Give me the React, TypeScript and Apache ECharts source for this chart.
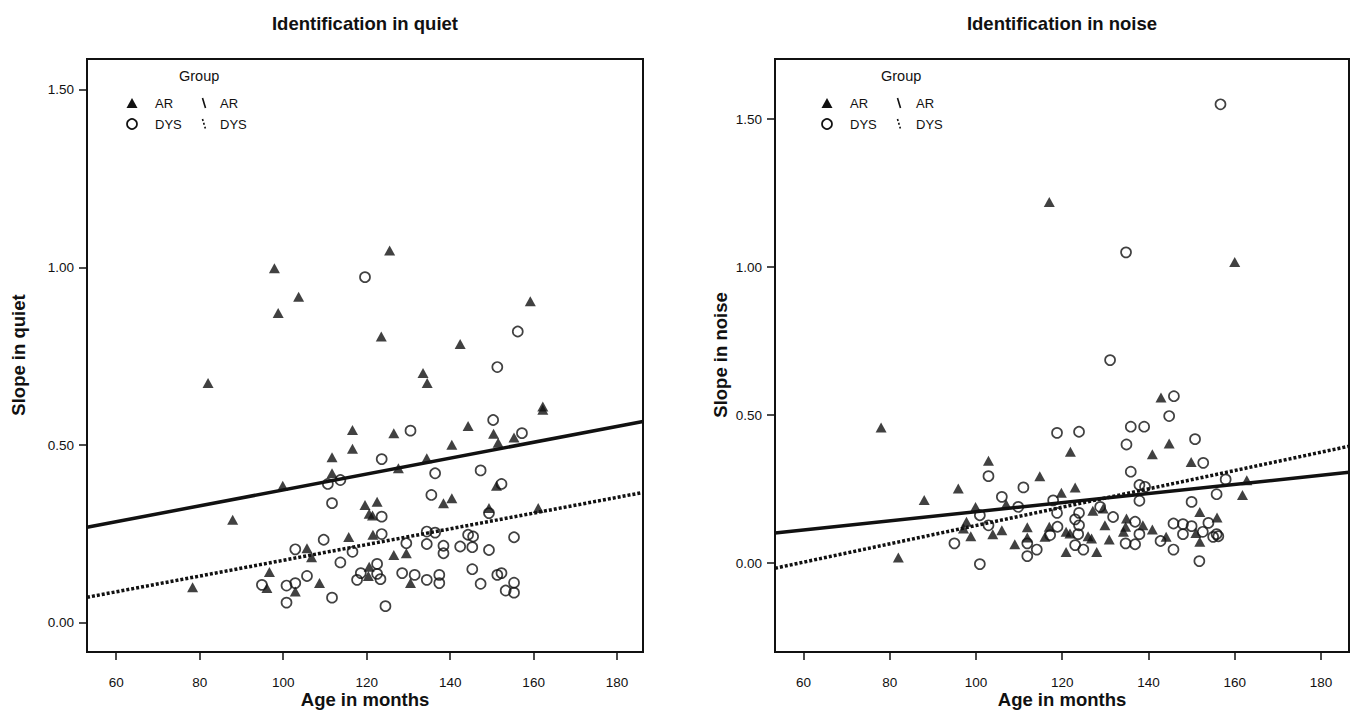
import React, { useEffect, useRef } from "react";
import * as echarts from "echarts";

// ---- axis ticks ----
const tickAges = [60, 80, 100, 120, 140, 160, 180];
const tickSlopes = [0, 0.5, 1.0, 1.5];

// ---- Identification in quiet ----
const quietArAge = [
  78.3, 82.0, 87.9, 96.7, 96.1, 97.9, 98.8, 99.9, 102.9, 103.7, 105.7, 106.8, 108.7,
  111.7, 111.7, 115.7, 116.6, 116.6, 119.6, 120.6, 121.4, 120.6, 120.4, 121.5, 122.5,
  123.5, 125.5, 126.5, 126.5, 127.6, 129.5, 130.5, 133.5, 134.5, 134.4, 138.4, 140.4,
  140.4, 142.4, 144.3, 149.3, 150.4, 151.5, 151.1, 155.3, 159.2, 161.1, 162.2, 162.2,
];
const quietArSlope = [
  0.1, 0.675, 0.29, 0.143, 0.098, 0.998, 0.872, 0.386, 0.088, 0.918, 0.21, 0.185, 0.112,
  0.466, 0.421, 0.242, 0.543, 0.49, 0.332, 0.307, 0.302, 0.158, 0.132, 0.248, 0.341,
  0.806, 1.048, 0.534, 0.191, 0.435, 0.196, 0.112, 0.703, 0.675, 0.463, 0.337, 0.351,
  0.501, 0.785, 0.554, 0.323, 0.532, 0.507, 0.386, 0.522, 0.905, 0.323, 0.609, 0.6,
];
const quietDysAge = [
  94.9, 100.8, 100.8, 102.9, 102.9, 105.7, 109.7, 110.7, 111.7, 111.7, 113.7, 113.7,
  116.6, 117.7, 118.6, 119.6, 122.5, 122.5, 123.3, 123.6, 123.6, 123.6, 124.5, 128.5,
  129.5, 130.5, 131.5, 134.4, 134.4, 134.4, 135.5, 136.4, 136.4, 137.4, 137.4, 138.4,
  138.4, 142.4, 144.3, 145.5, 145.3, 145.3, 147.3, 147.3, 149.3, 149.3, 150.3, 151.3,
  151.3, 152.3, 152.3, 153.3, 155.3, 155.3, 155.3, 156.2, 157.2,
];
const quietDysSlope = [
  0.107, 0.105, 0.057, 0.207, 0.112, 0.132, 0.234, 0.391, 0.337, 0.071, 0.402, 0.17,
  0.2, 0.121, 0.14, 0.973, 0.166, 0.138, 0.123, 0.461, 0.299, 0.25, 0.047, 0.14,
  0.224, 0.541, 0.135, 0.257, 0.222, 0.121, 0.36, 0.421, 0.254, 0.135, 0.112, 0.217,
  0.196, 0.215, 0.248, 0.243, 0.213, 0.151, 0.429, 0.11, 0.309, 0.205, 0.571, 0.72,
  0.135, 0.391, 0.14, 0.091, 0.241, 0.113, 0.085, 0.82, 0.534,
];
const quietFitAge = [53.0, 186.2];
const quietFitAr = [0.269, 0.567];
const quietFitDys = [0.072, 0.367];

// ---- Identification in noise ----
const noiseArAge = [
  78.0, 82.0, 88.0, 95.9, 97.8, 97.1, 98.8, 99.9, 102.9, 103.9, 106.0, 107.0, 109.0,
  111.9, 111.9, 114.8, 116.0, 117.0, 117.0, 119.8, 121.9, 123.0, 120.9, 121.8, 120.9,
  126.0, 126.8, 127.1, 128.0, 129.5, 129.9, 130.9, 134.9, 134.7, 134.2, 138.7, 140.9,
  140.9, 142.9, 144.8, 144.1, 149.9, 151.9, 151.0, 151.9, 155.9, 160.0, 161.8, 162.8,
];
const noiseArSlope = [
  0.458, 0.019, 0.213, 0.252, 0.14, 0.117, 0.091, 0.19, 0.346, 0.098, 0.111, 0.199, 0.064,
  0.121, 0.087, 0.294, 0.089, 0.123, 1.22, 0.238, 0.376, 0.256, 0.106, 0.1, 0.038,
  0.091, 0.083, 0.177, 0.038, 0.185, 0.128, 0.08, 0.151, 0.123, 0.106, 0.128, 0.114,
  0.368, 0.56, 0.404, 0.089, 0.342, 0.173, 0.102, 0.072, 0.154, 1.017, 0.23, 0.28,
];
const noiseDysAge = [
  95.0, 100.9, 100.9, 102.9, 102.9, 106.0, 109.8, 111.0, 111.9, 111.9, 114.1, 117.2,
  117.9, 118.8, 118.9, 118.8, 123.9, 123.9, 123.0, 123.9, 123.7, 123.0, 124.9, 128.8,
  131.1, 131.8, 134.9, 134.8, 135.9, 135.9, 136.9, 134.7, 136.9, 137.9, 139.2, 137.9,
  137.9, 139.0, 142.8, 144.8, 145.9, 145.8, 145.8, 148.0, 148.0, 150.0, 150.0, 150.8,
  151.8, 152.6, 152.7, 153.9, 155.0, 155.8, 156.2, 155.8, 157.9, 156.7,
];
const noiseDysSlope = [
  0.067, -0.003, 0.162, 0.294, 0.128, 0.224, 0.19, 0.256, 0.067, 0.024, 0.046, 0.095,
  0.212, 0.44, 0.123, 0.17, 0.444, 0.17, 0.148, 0.128, 0.098, 0.061, 0.046, 0.19,
  0.686, 0.156, 0.401, 1.05, 0.461, 0.309, 0.14, 0.067, 0.064, 0.264, 0.258, 0.211,
  0.098, 0.461, 0.075, 0.497, 0.564, 0.134, 0.046, 0.132, 0.098, 0.125, 0.207, 0.419,
  0.007, 0.106, 0.339, 0.136, 0.089, 0.098, 0.091, 0.233, 0.283, 1.55,
];
const noiseFitAge = [53.4, 186.5];
const noiseFitAr = [0.102, 0.307];
const noiseFitDys = [-0.017, 0.395];

const FONT = "'Liberation Sans', Arial, sans-serif";
const INK = "#111";

const zip = (a: number[], b: number[]) => a.map((v, i) => [v, b[i]]);

function xAxisFor(gridIndex: number, min: number, max: number) {
  return {
    type: "value",
    gridIndex,
    min,
    max,
    splitLine: { show: false },
    axisLine: { show: true, onZero: false, lineStyle: { color: INK, width: 2 } },
    axisTick: {
      show: true,
      inside: false,
      length: 8,
      lineStyle: { color: INK, width: 1.5 },
      customValues: tickAges,
    },
    axisLabel: {
      customValues: tickAges,
      margin: 23,
      color: INK,
      fontSize: 13.5,
      fontFamily: FONT,
    },
  };
}

function yAxisFor(gridIndex: number, min: number, max: number) {
  return {
    type: "value",
    gridIndex,
    min,
    max,
    splitLine: { show: false },
    axisLine: { show: true, onZero: false, lineStyle: { color: INK, width: 2 } },
    axisTick: {
      show: true,
      inside: false,
      length: 8,
      lineStyle: { color: INK, width: 1.5 },
      customValues: tickSlopes,
    },
    axisLabel: {
      customValues: tickSlopes,
      margin: 13,
      color: INK,
      fontSize: 13.5,
      fontFamily: FONT,
      formatter: (v: number) => v.toFixed(2),
    },
  };
}

function seriesFor(
  idx: number,
  arAge: number[],
  arSlope: number[],
  dysAge: number[],
  dysSlope: number[],
  fitAge: number[],
  fitAr: number[],
  fitDys: number[]
) {
  return [
    {
      type: "scatter",
      name: "AR",
      xAxisIndex: idx,
      yAxisIndex: idx,
      symbol: "triangle",
      symbolSize: [11, 10],
      itemStyle: { color: INK },
      data: zip(arAge, arSlope),
      z: 3,
    },
    {
      type: "scatter",
      name: "DYS",
      xAxisIndex: idx,
      yAxisIndex: idx,
      symbol: "circle",
      symbolSize: 10,
      itemStyle: { color: "rgba(255,255,255,0)", borderColor: INK, borderWidth: 1.7 },
      data: zip(dysAge, dysSlope),
      z: 3,
    },
    {
      type: "line",
      xAxisIndex: idx,
      yAxisIndex: idx,
      symbol: "none",
      lineStyle: { color: INK, width: 3.5 },
      data: zip(fitAge, fitAr),
      z: 4,
    },
    {
      type: "line",
      xAxisIndex: idx,
      yAxisIndex: idx,
      symbol: "none",
      lineStyle: { color: INK, width: 3.5, type: [3, 2], cap: "butt" },
      data: zip(fitAge, fitDys),
      z: 4,
    },
  ];
}

function legendGraphics(tri: number, lab: number, sym: number, lab2: number, grp: number) {
  const y1 = 103;
  const y2 = 124;
  const txt = (x: number, y: number, text: string, size = 13) => ({
    type: "text",
    x,
    y,
    style: { text, fill: INK, font: `${size}px ${FONT}`, textAlign: "left", textVerticalAlign: "middle" },
  });
  return [
    txt(grp, 76, "Group", 14.5),
    {
      type: "polygon",
      shape: { points: [[tri - 5.5, y1 + 5], [tri + 5.5, y1 + 5], [tri, y1 - 5]] },
      style: { fill: INK },
    },
    { type: "circle", shape: { cx: tri, cy: y2, r: 5 }, style: { fill: "none", stroke: INK, lineWidth: 1.7 } },
    txt(lab, y1, "AR"),
    txt(lab, y2, "DYS"),
    { type: "line", shape: { x1: sym - 1.5, y1: y1 - 5, x2: sym + 1.5, y2: y1 + 5 }, style: { stroke: INK, lineWidth: 1.6 } },
    {
      type: "line",
      shape: { x1: sym - 1.5, y1: y2 - 5, x2: sym + 1.5, y2: y2 + 5 },
      style: { stroke: INK, lineWidth: 1.6, lineDash: [2, 2] },
    },
    txt(lab2, y1, "AR"),
    txt(lab2, y2, "DYS"),
  ];
}

export default function App() {
  const ref = useRef<HTMLDivElement>(null);
  useEffect(() => {
    if (!ref.current) return;
    const chart = echarts.init(ref.current, undefined, { renderer: "svg" });
    const boldText = (x: number, y: number, text: string, rotation = 0) => ({
      type: "text",
      x,
      y,
      rotation,
      style: {
        text,
        fill: INK,
        font: `bold 18.5px ${FONT}`,
        textAlign: "center",
        textVerticalAlign: "middle",
      },
    });
    chart.setOption({
      animation: false,
      backgroundColor: "#fff",
      grid: [
        { left: 87, top: 59, width: 556, height: 593, show: true, borderColor: INK, borderWidth: 2 },
        { left: 775, top: 59, width: 574, height: 593, show: true, borderColor: INK, borderWidth: 2 },
      ],
      xAxis: [xAxisFor(0, 53.0, 186.2), xAxisFor(1, 53.4, 186.5)],
      yAxis: [yAxisFor(0, -0.082, 1.587), yAxisFor(1, -0.3, 1.703)],
      series: [
        ...seriesFor(0, quietArAge, quietArSlope, quietDysAge, quietDysSlope, quietFitAge, quietFitAr, quietFitDys),
        ...seriesFor(1, noiseArAge, noiseArSlope, noiseDysAge, noiseDysSlope, noiseFitAge, noiseFitAr, noiseFitDys),
      ],
      graphic: [
        boldText(365, 23, "Identification in quiet"),
        boldText(1062, 23, "Identification in noise"),
        boldText(365, 699, "Age in months"),
        boldText(1062, 699, "Age in months"),
        boldText(18, 355, "Slope in quiet", Math.PI / 2),
        boldText(720, 355, "Slope in noise", Math.PI / 2),
        ...legendGraphics(132, 155, 204, 220, 179),
        ...legendGraphics(827, 850, 899, 916, 881),
      ],
    });
    return () => chart.dispose();
  }, []);
  return (
    <div
      ref={ref}
      style={{ position: "fixed", left: 0, top: 0, width: 1354, height: 710, background: "#fff" }}
    />
  );
}
